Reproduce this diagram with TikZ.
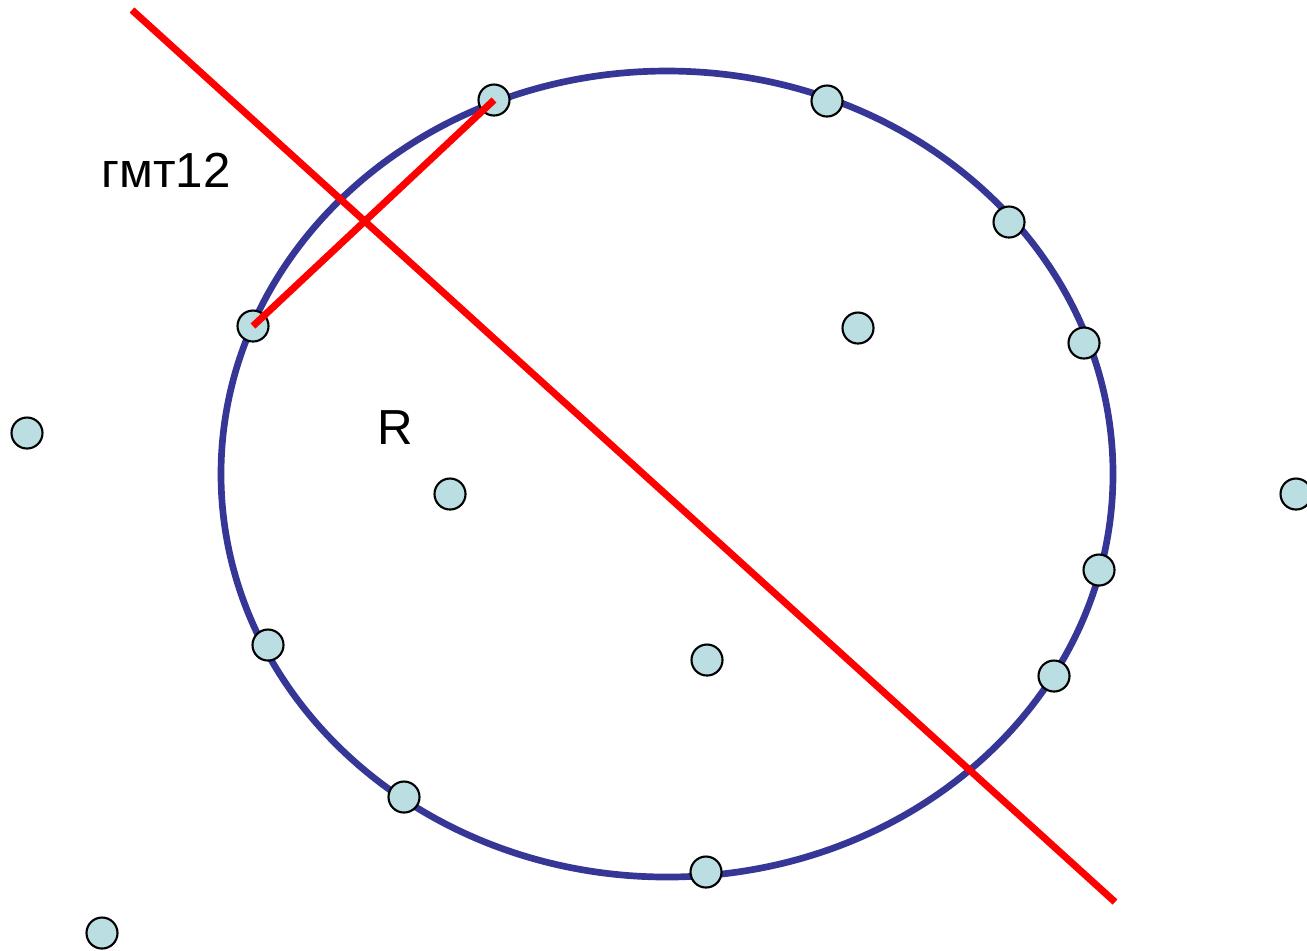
\documentclass[tikz,border=0pt]{standalone}
\usepackage{fontspec}
\setmainfont{Liberation Sans}
\usetikzlibrary{positioning}
\definecolor{ell-blau}{RGB}{54,54,150}
\definecolor{pt-cel}{RGB}{186,222,226}

\begin{document}
\begin{tikzpicture}[x=0.01cm, y=-0.01cm, font=\fontsize{14}{17}\selectfont,
	   p/.style={draw, circle, fill=pt-cel, line width=0.6pt, inner sep=0pt, minimum size=0.31cm},
	   r/.style={red, line width=2pt}]
	  \useasboundingbox (0,0) rectangle (1307,950);
	  \draw[ell-blau, line width=1.9pt] (667,474) ellipse [x radius=446, y radius=403];
	  \node[p] (P1) at (494,100) {};
	  \node[p] (P2) at (827,101) {};
	  \node[p] (P3) at (1009,222) {};
	  \node[p] (P4) at (1084,343) {};
	  \node[p] (P5) at (858,328) {};
	  \node[p] (P6) at (253,326) {};
	  \node[p] (P7) at (450,494) {};
	  \node[p] (P8) at (1099,570) {};
	  \node[p] (P9) at (1054,676) {};
	  \node[p] (P10) at (707,660) {};
	  \node[p] (P11) at (268,645) {};
	  \node[p] (P12) at (404,797) {};
	  \node[p] (P13) at (706,872) {};
	  \node[p] (Q1) at (27,433) {};
	  \node[p] (Q2) at (1296,494) {};
	  \node[p] (Q3) at (102,933) {};
	  \coordinate (M1) at (132,10);
	  \coordinate (M2) at (1115,902);
	  \draw[r] (M1)--(M2);
	  \draw[r] (P6.center)--(P1.center);
	  \node (gmt) at (166,170) {гмт12};
	  \node (R) at (395,428) {R};
	\end{tikzpicture}
\end{document}
